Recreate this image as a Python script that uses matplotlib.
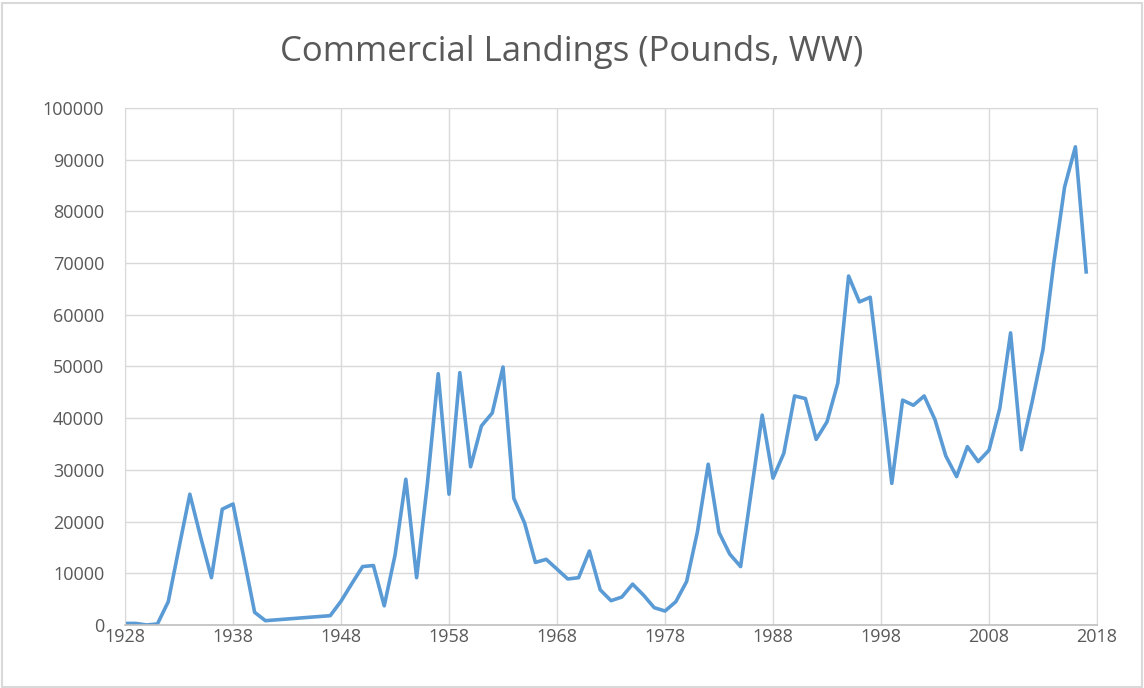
import matplotlib.pyplot as plt
from matplotlib.patches import Rectangle

years = [1928, 1929, 1930, 1931, 1932, 1933, 1934, 1935, 1936, 1937, 1938, 1939, 1940, 1941,
         1947, 1948, 1949, 1950, 1951, 1952, 1953, 1954, 1955, 1956, 1957, 1958, 1959,
         1960, 1961, 1962, 1963, 1964, 1965, 1966, 1967, 1968, 1969, 1970, 1971, 1972,
         1973, 1974, 1975, 1976, 1977, 1978, 1979, 1980, 1981, 1982, 1983, 1984, 1985,
         1986, 1987, 1988, 1989, 1990, 1991, 1992, 1993, 1994, 1995, 1996, 1997, 1998,
         1999, 2000, 2001, 2002, 2003, 2004, 2005, 2006, 2007, 2008, 2009, 2010, 2011,
         2012, 2013, 2014, 2015, 2016, 2017]
pounds = [300, 300, 0, 200, 4500, 15000, 25300, 17000, 9150, 22400, 23400, 13000, 2450, 830,
          1800, 4600, 8000, 11300, 11500, 3700, 13500, 28200, 9150, 27400, 48600, 25300, 48800,
          30600, 38500, 41000, 49900, 24500, 19700, 12100, 12700, 10800, 8900, 9150, 14300, 6800,
          4700, 5400, 7900, 5800, 3350, 2700, 4500, 8400, 18000, 31100, 17900, 13700, 11300,
          26000, 40600, 28400, 33200, 44300, 43800, 35900, 39300, 46800, 67500, 62500, 63400, 46100,
          27400, 43500, 42500, 44300, 39700, 32700, 28700, 34500, 31600, 33800, 41900, 56500, 33900,
          43200, 53300, 70000, 84700, 92500, 68300]
x_ticks = [1928, 1938, 1948, 1958, 1968, 1978, 1988, 1998, 2008, 2018]
y_ticks = [0, 10000, 20000, 30000, 40000, 50000, 60000, 70000, 80000, 90000, 100000]

plt.rcParams['font.family'] = ['Open Sans', 'DejaVu Sans']

fig = plt.figure(figsize=(11.44, 6.88), dpi=100)
ax = fig.add_axes([0.1093, 0.0916, 0.8496, 0.7514])

ax.plot(years, pounds, color='#5B9BD5', linewidth=2.6, solid_joinstyle='round')

ax.set_xlim(1928, 2018)
ax.set_ylim(0, 100000)
ax.set_xticks(x_ticks)
ax.set_yticks(y_ticks)
ax.set_yticklabels([str(v) for v in y_ticks])
ax.grid(True, color='#D9D9D9', linewidth=1)
ax.set_axisbelow(True)
ax.tick_params(length=0, labelsize=13, colors='#595959')
ax.tick_params(axis='y', pad=15)
ax.tick_params(axis='x', pad=2)
for side in ['left', 'right', 'top']:
    ax.spines[side].set_color('#D9D9D9')
ax.spines['bottom'].set_color('#BFBFBF')
ax.spines['bottom'].set_linewidth(1.2)

fig.text(0.5, 0.924, 'Commercial Landings (Pounds, WW)', ha='center', va='center',
         fontsize=25, color='#595959')

# chart border
fig.patches.append(Rectangle((0.002, 0.002), 0.996, 0.993, transform=fig.transFigure,
                             fill=False, edgecolor='#D9D9D9', linewidth=1.5))

fig.savefig('out.png', dpi=100)
